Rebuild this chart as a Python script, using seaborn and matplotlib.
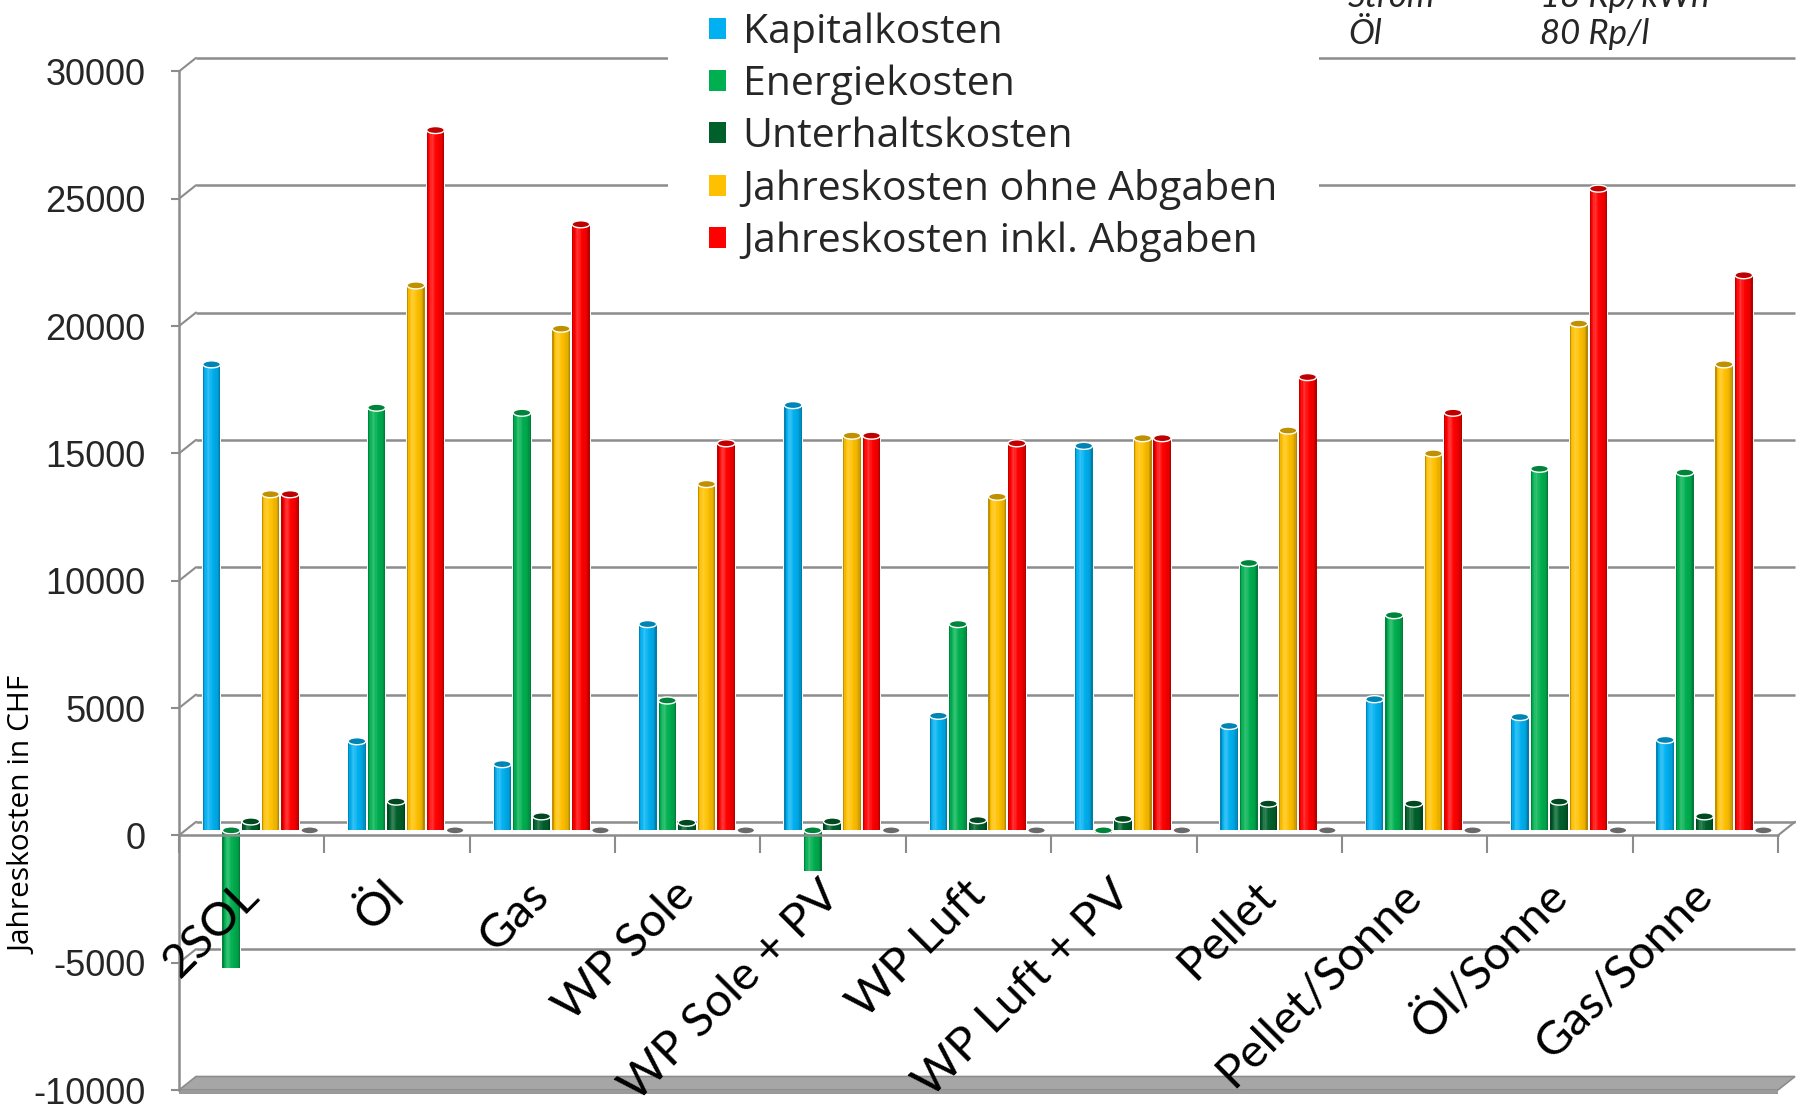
import numpy as np
import pandas as pd
import matplotlib
matplotlib.use("Agg")
import matplotlib.pyplot as plt
import seaborn as sns
from matplotlib import transforms, font_manager
from matplotlib.patches import Rectangle, Ellipse, Polygon, Patch
from matplotlib.collections import PatchCollection
from matplotlib.colors import to_rgb

# ---------------------------------------------------------------- data
systeme = ["2SOL", "Öl", "Gas", "WP Sole", "WP Sole + PV", "WP Luft",
           "WP Luft + PV", "Pellet", "Pellet/Sonne", "Öl/Sonne", "Gas/Sonne"]

kostenarten = ["Kapitalkosten", "Energiekosten", "Unterhaltskosten",
               "Jahreskosten ohne Abgaben", "Jahreskosten inkl. Abgaben",
               "_Abgaben"]

kapitalkosten = [18300, 3500, 2600, 8100, 16700, 4500, 15100, 4100, 5150, 4450, 3550]
energiekosten = [-5400, 16600, 16400, 5100, -1600, 8100, -100, 10500, 8450, 14200, 14050]
unterhaltskosten = [350, 1130, 550, 300, 350, 400, 450, 1050, 1050, 1130, 550]
jahreskosten_ohne = [13200, 21400, 19700, 13600, 15500, 13100, 15400, 15700, 14800, 19900, 18300]
jahreskosten_inkl = [13200, 27500, 23800, 15200, 15500, 15200, 15400, 17800, 16400, 25200, 21800]
abgaben = [0, 0, 0, 0, 0, 0, 0, 0, 0, 0, 0]

farben = ["#00B0F0", "#00B050", "#00602B", "#FFC000", "#FF0000", "#8C8C8C"]

y_ticks = [-10000, -5000, 0, 5000, 10000, 15000, 20000, 25000, 30000]

notiz_links = ["Strom", "Öl"]
notiz_rechts = ["18 Rp/kWh", "80 Rp/l"]

# ---------------------------------------------------------------- fonts
available = {f.name for f in font_manager.fontManager.ttflist}
LABEL_FONT = "Lato" if "Lato" in available else "DejaVu Sans"
WIDE_FONT = "Open Sans" if "Open Sans" in available else LABEL_FONT
NUM_FONT = ("Liberation Sans Narrow" if "Liberation Sans Narrow" in available
            else "Liberation Sans")
NUM_SIZE = 31 if NUM_FONT == "Liberation Sans Narrow" else 26

sns.set_theme(style="white")
plt.rcParams["font.family"] = [LABEL_FONT, "DejaVu Sans"]
plt.rcParams["axes.unicode_minus"] = False

W, H, DPI = 1807, 1110, 100
GRAY = "#8C8C8C"

fig = plt.figure(figsize=(W / DPI, H / DPI), dpi=DPI)
fig.patch.set_facecolor("white")
ax = fig.add_axes([179 / W, 20 / H, 1599 / W, 1018.6 / H])
ax.set_facecolor("none")

reihen = [kapitalkosten, energiekosten, unterhaltskosten,
          jahreskosten_ohne, jahreskosten_inkl, abgaben]
df = pd.DataFrame({
    "System": np.tile(systeme, len(kostenarten)),
    "Kostenart": np.repeat(kostenarten, len(systeme)),
    "Kosten": np.concatenate(reihen),
})

sns.barplot(data=df, x="System", y="Kosten", hue="Kostenart",
            order=systeme, hue_order=kostenarten, palette=farben,
            width=0.81, saturation=1, errorbar=None, legend=False,
            edgecolor="white", linewidth=0.0, ax=ax)
bars = [p for p in ax.patches if isinstance(p, Rectangle)]

ax.set_xlim(-0.5, len(systeme) - 0.5)
ax.set_ylim(-10000, 30000)

# pixel -> data conversion for the perspective offsets
p0 = ax.transData.transform((0, 0))
p1 = ax.transData.transform((1, 10000))
dxpp = 1.0 / (p1[0] - p0[0])
dypp = 10000.0 / (p1[1] - p0[1])

BACK_DX, BACK_DY = 17, 13.5      # back wall offset in px
BAR_DX, BAR_DY = 9, 5            # plane of the cylinders in px
bar_tr = ax.transData + transforms.ScaledTranslation(BAR_DX / DPI, BAR_DY / DPI,
                                                     fig.dpi_scale_trans)
back_tr = ax.transData + transforms.ScaledTranslation(BACK_DX / DPI, BACK_DY / DPI,
                                                      fig.dpi_scale_trans)
x0, x1 = ax.get_xlim()
bdx, bdy = BACK_DX * dxpp, BACK_DY * dypp

# ---------------------------------------------------------------- walls
for y in y_ticks:
    if y == -10000:
        continue
    ax.plot([x0, x1], [y, y], transform=back_tr, color=GRAY, lw=1.8,
            clip_on=False, zorder=0.5, solid_capstyle="butt")
    ax.plot([x0, x0 + bdx], [y, y + bdy], color=GRAY, lw=1.5,
            clip_on=False, zorder=0.5)
# right end of the floor at zero
ax.plot([x1, x1 + bdx], [0, bdy], color=GRAY, lw=1.5, clip_on=False, zorder=0.5)

# floor slab at the bottom of the value axis
ymin = -10000
slab = Polygon([(x0, ymin), (x1, ymin), (x1 + bdx, ymin + bdy), (x0 + bdx, ymin + bdy)],
               closed=True, fc="#A6A6A6", ec="#8C8C8C", lw=1.2, clip_on=False, zorder=0.6)
ax.add_patch(slab)
front = Polygon([(x0, ymin), (x1, ymin), (x1, ymin - 4 * dypp), (x0, ymin - 4 * dypp)],
                closed=True, fc="#9A9A9A", ec="none", clip_on=False, zorder=0.6)
ax.add_patch(front)

# ---------------------------------------------------------------- cylinders
def mix(rgb, k):
    rgb = np.array(rgb)
    if k >= 0:
        return tuple(rgb + (1 - rgb) * k)
    return tuple(rgb * (1 + k))

prof_t = [0.0, 0.10, 0.30, 0.55, 0.85, 1.0]
prof_k = [-0.35, -0.05, 0.22, 0.0, -0.10, -0.35]
N_STRIPES = 14
cap_h = 7 * dypp

stripes, stripe_cols, caps = [], [], []
for bar in bars:
    base = to_rgb(bar.get_facecolor())
    bx, bw = bar.get_x(), bar.get_width()
    by, bh = bar.get_y(), bar.get_height()
    bar.set_transform(bar_tr)
    bar.set_clip_on(False)
    bar.set_facecolor("white")
    bar.set_zorder(2)
    inner = bw * 0.90
    ix = bx + (bw - inner) / 2
    if abs(bh) > 0:
        for i in range(N_STRIPES):
            t = (i + 0.5) / N_STRIPES
            k = np.interp(t, prof_t, prof_k)
            stripes.append(Rectangle((ix + i * inner / N_STRIPES, by),
                                     inner / N_STRIPES * 1.02, bh))
            stripe_cols.append(mix(base, k))
    top = by + max(bh, 0)
    caps.append(Ellipse((bx + bw / 2, top), inner, cap_h,
                        fc=mix(base, -0.25), ec="white", lw=1.0))

pc = PatchCollection(stripes, facecolors=stripe_cols, edgecolors="none",
                     transform=bar_tr, zorder=2.1, clip_on=False)
ax.add_collection(pc)
cc = PatchCollection(caps, match_original=True, transform=bar_tr,
                     zorder=2.2, clip_on=False)
ax.add_collection(cc)

# ---------------------------------------------------------------- axes
sns.despine(ax=ax, top=True, right=True)
ax.spines["left"].set_color(GRAY)
ax.spines["left"].set_linewidth(1.8)
ax.spines["bottom"].set_position(("data", 0))
ax.spines["bottom"].set_color(GRAY)
ax.spines["bottom"].set_linewidth(1.8)
ax.grid(False)

ax.set_yticks(y_ticks)
ax.set_yticklabels([str(v) for v in y_ticks], fontfamily=NUM_FONT, fontsize=NUM_SIZE)
ax.tick_params(axis="y", which="major", left=True, length=6, width=1.5,
               color=GRAY, pad=18, direction="out")

ax.set_xticks(range(len(systeme)))
ax.set_xticks(np.arange(-0.5, len(systeme), 1.0), minor=True)
ax.tick_params(axis="x", which="major", length=0, pad=38, bottom=True)
ax.tick_params(axis="x", which="minor", length=13, width=1.5, color=GRAY,
               direction="out", bottom=True)
ax.set_xticklabels(systeme, fontsize=34, color="black")
for lbl in ax.get_xticklabels():
    lbl.set_rotation(45)
    lbl.set_horizontalalignment("right")
    lbl.set_verticalalignment("center")
    lbl.set_rotation_mode("anchor")
ax.xaxis.set_zorder(5)

ax.set_xlabel("")
ax.set_ylabel("Jahreskosten in CHF", fontsize=21.5, color="black", fontfamily=WIDE_FONT)
ax.yaxis.set_label_coords(-0.088, 0.27)

# ---------------------------------------------------------------- legend
handles = [Patch(facecolor=c, edgecolor="none") for c in farben[:5]]
leg = ax.legend(handles, kostenarten[:5], loc="upper left",
                bbox_to_anchor=(668 / W, 1 + 28 / H), bbox_transform=fig.transFigure,
                frameon=True, handlelength=0.42, handleheight=0.42,
                handletextpad=0.4, labelspacing=0.28, borderpad=1.0,
                borderaxespad=0, prop={"family": WIDE_FONT, "size": 29.5})
leg.get_frame().set_facecolor("white")
leg.get_frame().set_edgecolor("none")
leg.get_frame().set_alpha(1)
leg.set_zorder(5)

# ---------------------------------------------------------------- price notes
for i, (a, b) in enumerate(zip(notiz_links, notiz_rechts)):
    yc = 1 - (-3 + 37 * i) / H
    fig.text(1348 / W, yc, a, fontsize=25, fontstyle="italic", va="center", ha="left")
    fig.text(1540 / W, yc, b, fontsize=25, fontstyle="italic", va="center", ha="left")

fig.savefig("out.png", dpi=DPI, facecolor="white")
